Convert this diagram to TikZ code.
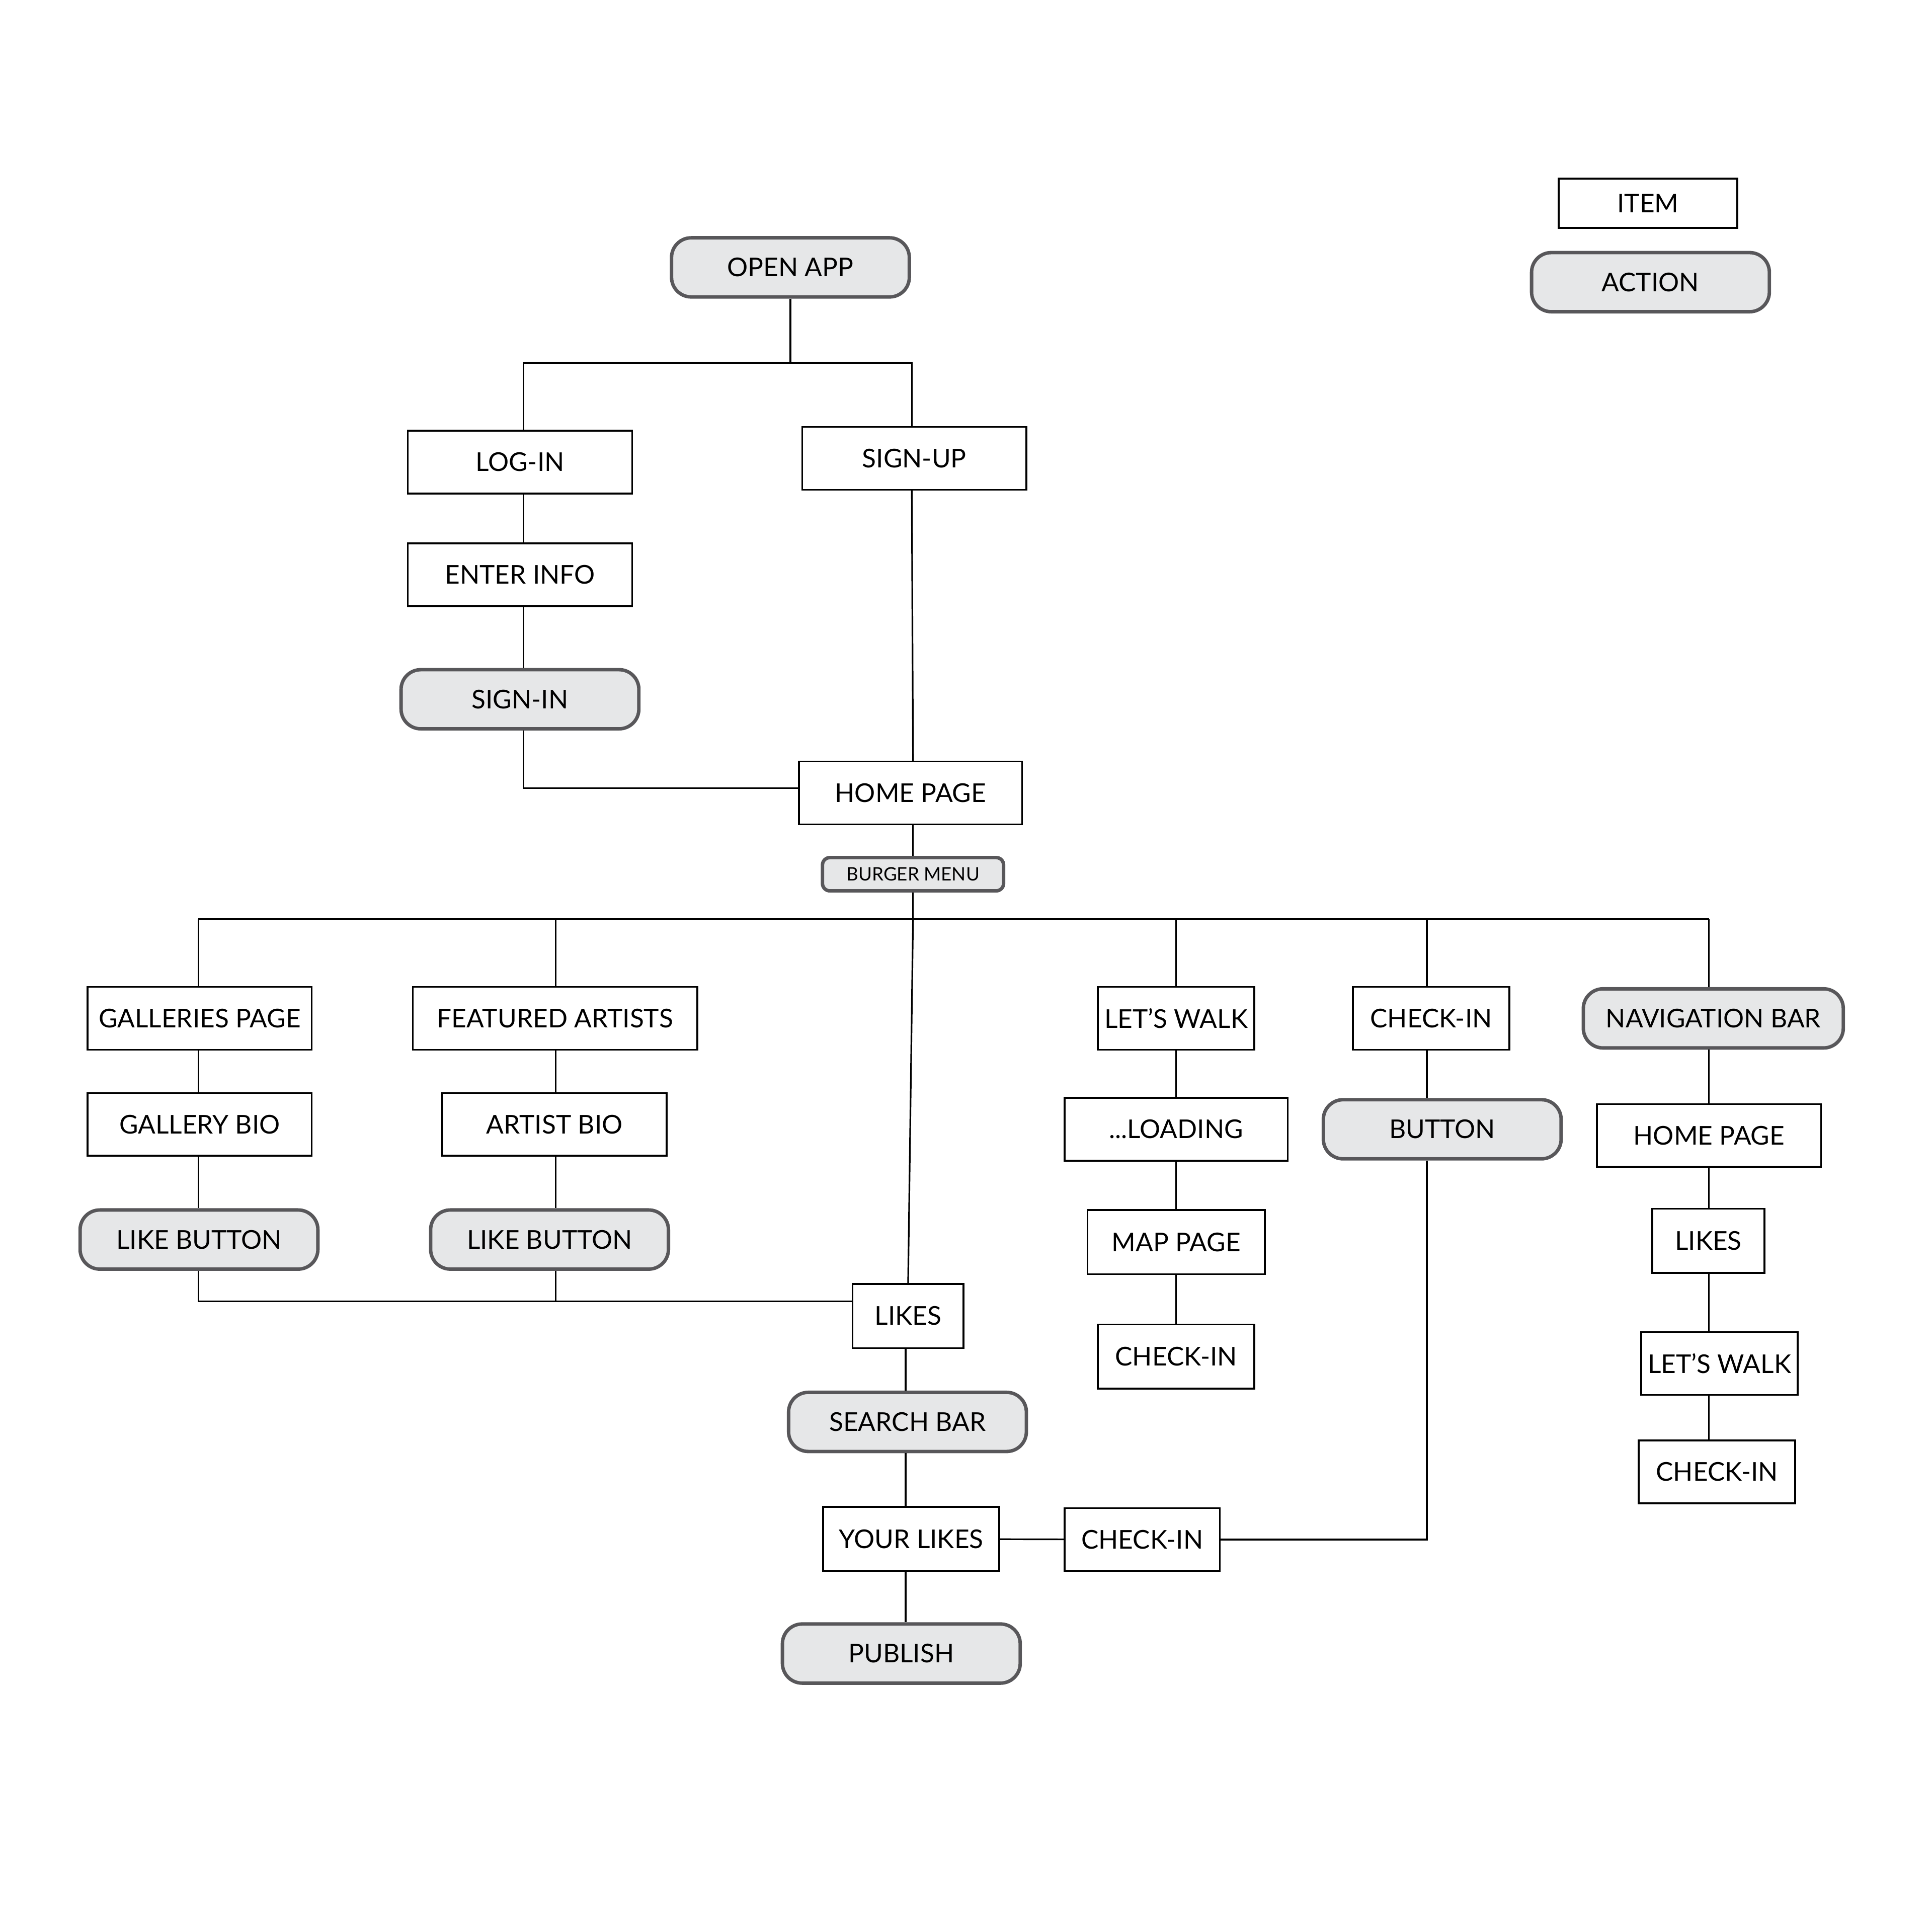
\documentclass[tikz,border=0pt]{standalone}
\usepackage{fontspec}
\setmainfont{Lato}
\usepackage{tikz}
\usetikzlibrary{positioning,calc}
\definecolor{actfill}{HTML}{E6E7E8}
\definecolor{actline}{HTML}{58575A}
\tikzset{
  item/.style={draw, line width=1.4pt, fill=white, minimum height=51pt, inner sep=0pt, font=\fontsize{21}{25}\selectfont},
  action/.style={draw=actline, fill=actfill, line width=2.8pt, rounded corners=16pt, minimum width=193pt, minimum height=48pt, inner sep=0pt, font=\fontsize{21}{25}\selectfont},
  link/.style={line width=1.3pt}
}
\begin{document}
\begin{tikzpicture}[x=1pt,y=-1pt]
    \useasboundingbox (0,0) rectangle (1568,1568);
    % Legend
    \node[item, minimum width=145pt, minimum height=40pt] (legitem) at (1337.5,165) {ITEM};
    \node[action] (legaction) at (1339.5,229) {ACTION};

    % Log in / sign up
    \node[action] (open) at (641.5,217) {OPEN APP};
    \node[item, minimum width=182pt] (login) at (422,375) {LOG-IN};
    \node[item, minimum width=182pt] (signup) at (742,372) {SIGN-UP};
    \node[item, minimum width=182pt] (info) at (422,466.5) {ENTER INFO};
    \node[action] (signin) at (422,567.5) {SIGN-IN};
    \node[item, minimum width=181pt] (home) at (739,643.5) {HOME PAGE};
    \node[action, minimum width=147pt, minimum height=27pt, rounded corners=6pt, font=\fontsize{15}{18}\selectfont] (burger) at (741,709.5) {BURGER MENU};
    \coordinate (busL) at (161,746);
    \coordinate (busR) at (1387,746);

    % Galleries / artists
    \node[item, minimum width=182pt] (galleries) at (162,826.5) {GALLERIES PAGE};
    \node[item, minimum width=182pt] (gallerybio) at (162,912.5) {GALLERY BIO};
    \node[action] (likeA) at (161.5,1006) {LIKE BUTTON};
    \node[item, minimum width=231pt] (featured) at (450.5,826.5) {FEATURED ARTISTS};
    \node[item, minimum width=182pt] (artistbio) at (450,912.5) {ARTIST BIO};
    \node[action] (likeB) at (446,1006) {LIKE BUTTON};
    \coordinate (artcol) at (451,0);

    % Likes chain
    \node[item, minimum width=90pt, minimum height=52pt] (likes) at (737,1068) {LIKES};
    \node[action] (search) at (736.5,1154) {SEARCH BAR};
    \node[item, minimum width=143pt, minimum height=52pt] (yourlikes) at (739.5,1249) {YOUR LIKES};
    \node[action] (publish) at (731.5,1342) {PUBLISH};
    \node[item, minimum width=126pt] (checkinC) at (927,1249.5) {CHECK-IN};
    \coordinate (midcol) at (735,0);
    \coordinate (likejoin) at ([yshift=12pt]likes.west);

    % Walk
    \node[item, minimum width=127pt] (walk) at (954.5,826.5) {LET’S WALK};
    \node[item, minimum width=181pt] (loading) at (954.5,916.5) {...LOADING};
    \node[item, minimum width=144pt, minimum height=52pt] (map) at (954.5,1008) {MAP PAGE};
    \node[item, minimum width=127pt, minimum height=52pt] (checkinB) at (954.5,1101) {CHECK-IN};

    % Check-in
    \node[item, minimum width=127pt] (checkinA) at (1161.5,826.5) {CHECK-IN};
    \node[action] (button) at (1170.5,916.5) {BUTTON};
    \coordinate (chkcol) at (1158,0);

    % Navigation bar
    \node[action, minimum width=211pt] (nav) at (1390.5,826.5) {NAVIGATION BAR};
    \node[item, minimum width=182pt] (homeB) at (1387,921.5) {HOME PAGE};
    \node[item, minimum width=91pt, minimum height=52pt] (likesB) at (1386.5,1007) {LIKES};
    \node[item, minimum width=127pt] (walkB) at (1395.5,1106.5) {LET’S WALK};
    \node[item, minimum width=127pt] (checkinD) at (1393.5,1194.5) {CHECK-IN};
    \coordinate (navcol) at (1387,0);

    % Connectors
    \draw[link] (open.south) -- ++(0,52) -| ([xshift=3pt]login.north);
    \draw[link] (open.south) -- ++(0,52) -| ([xshift=-2pt]signup.north);
    \draw[link] ([xshift=3pt]login.south) -- ([xshift=3pt]info.north);
    \draw[link] ([xshift=3pt]info.south) -- ([xshift=3pt]signin.north);
    \draw[link] ([xshift=3pt]signin.south) |- ([yshift=4pt]home.west);
    \draw[link] ([xshift=-2pt]signup.south) -- (home.north -| burger.north);
    \draw[link] (home.south -| burger.north) -- (burger.north);
    \draw[link] (burger.south) -- (burger.south |- busL);
    \draw[link] (busL) -- (busR);
    \draw[link] (galleries.north -| busL) -- (busL);
    \draw[link] (featured.north -| artcol) -- (artcol |- busL);
    \draw[link] (likes.north) -- (burger.south |- busL);
    \draw[link] (walk.north) -- (walk.north |- busL);
    \draw[link] (checkinA.north -| chkcol) -- (chkcol |- busL);
    \draw[link] (nav.north -| navcol) -- (busR);

    \draw[link] (galleries.south -| busL) -- (gallerybio.north -| busL);
    \draw[link] (gallerybio.south -| busL) -- (likeA.north -| busL);
    \draw[link] (likeA.south -| busL) |- (likejoin);
    \foreach \a/\b in {featured/artistbio, artistbio/likeB}
        \draw[link] (\a.south -| artcol) -- (\b.north -| artcol);
    \draw[link] (likeB.south -| artcol) -- (artcol |- likejoin);

    \foreach \a/\b in {likes/search, search/yourlikes, yourlikes/publish}
        \draw[link] (\a.south -| midcol) -- (\b.north -| midcol);
    \draw[link] (yourlikes) -- (checkinC);

    \foreach \a/\b in {walk/loading, loading/map, map/checkinB}
        \draw[link] (\a) -- (\b);

    \draw[link] (checkinA.south -| chkcol) -- (button.north -| chkcol);
    \draw[link] (button.south -| chkcol) |- (checkinC.east);

    \foreach \a/\b in {nav/homeB, homeB/likesB, likesB/walkB, walkB/checkinD}
        \draw[link] (\a.south -| navcol) -- (\b.north -| navcol);
\end{tikzpicture}
\end{document}
